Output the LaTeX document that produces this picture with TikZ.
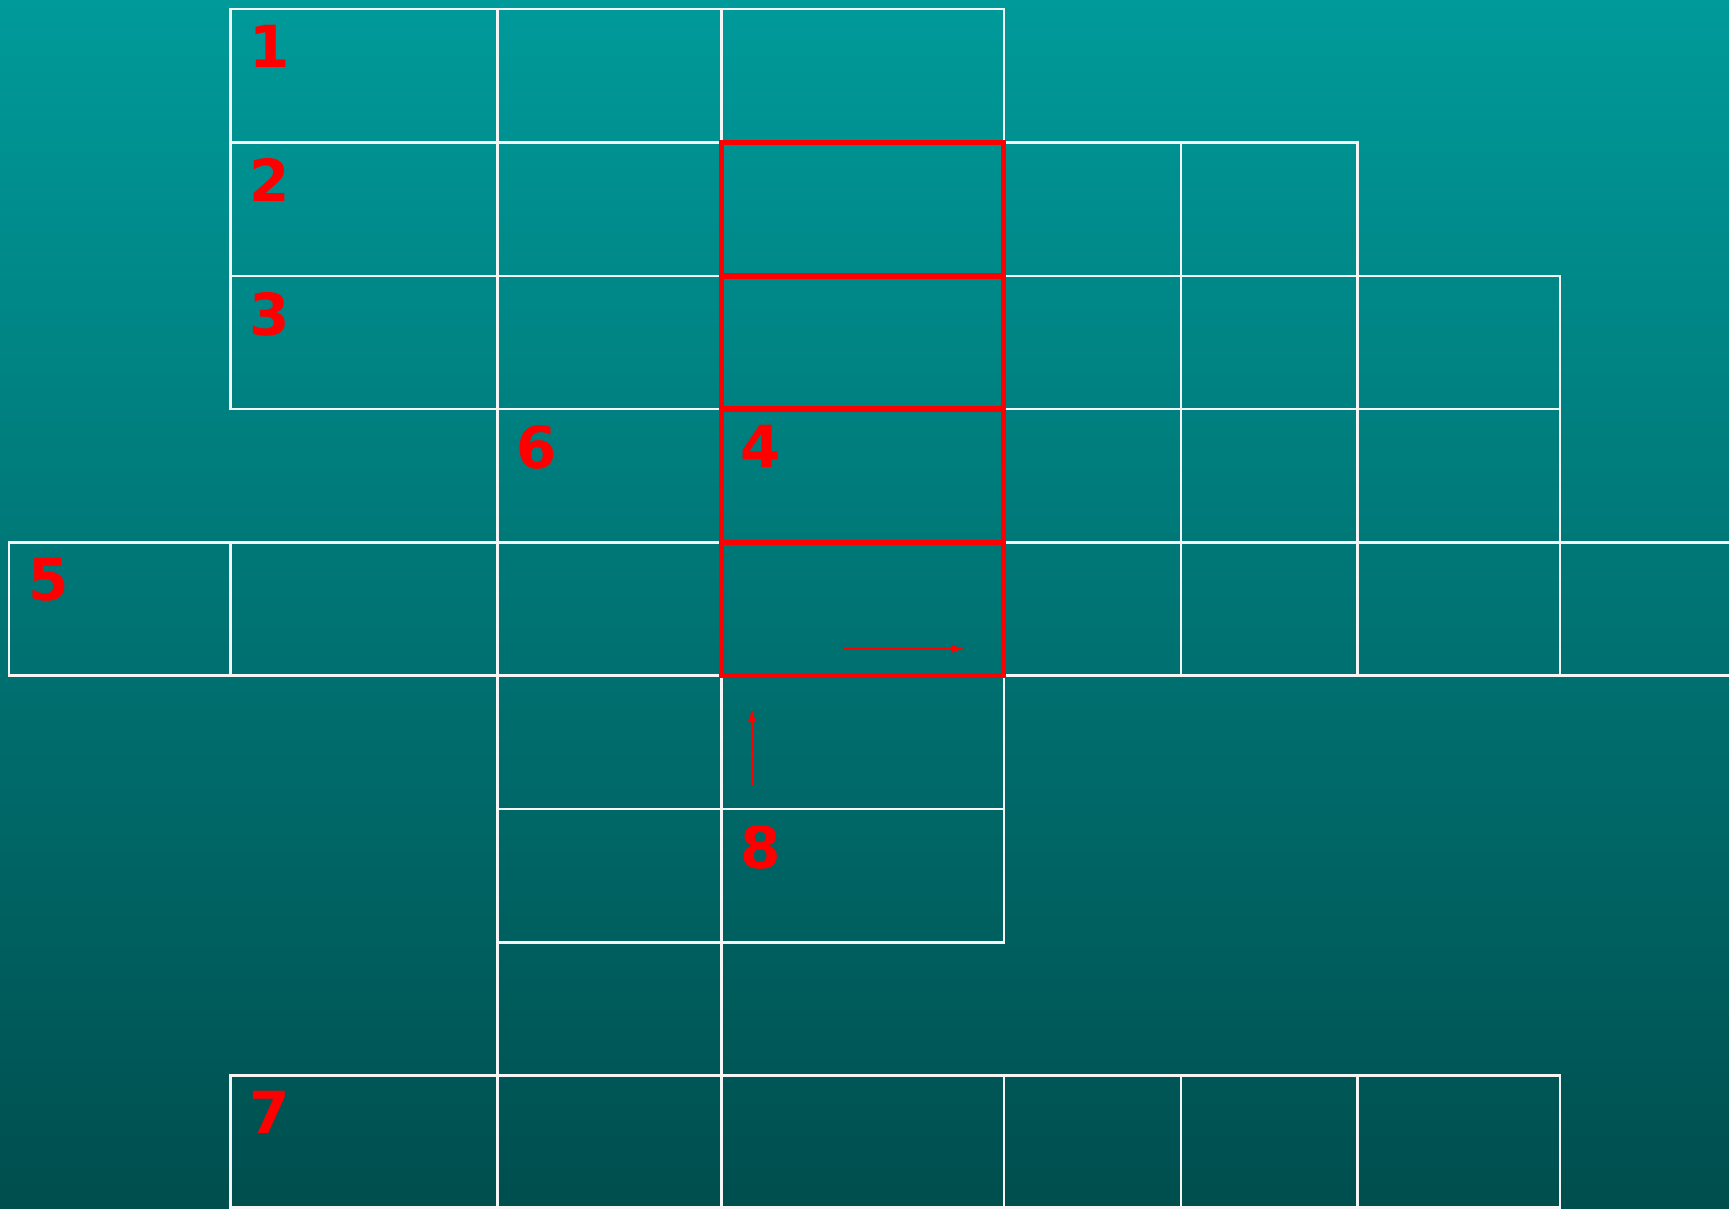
\documentclass[tikz,border=0pt]{standalone}
\usepackage{fontspec}
\setmainfont{DejaVu Sans}
\usetikzlibrary{arrows.meta}
\definecolor{bgtop}{RGB}{0,154,154}
\definecolor{bgbot}{RGB}{0,78,78}
\definecolor{gridwhite}{RGB}{245,245,245}
\definecolor{hired}{RGB}{255,0,0}
\tikzset{
  cellbox/.style={draw=gridwhite, line width=2.4pt},
  redbox/.style={draw=hired, line width=5.2pt},
  numlabel/.style={anchor=north west, inner sep=0pt, text=hired, font=\fontsize{58}{58}\selectfont\bfseries},
  pointer/.style={draw=hired, line width=1.8pt, -{Latex[length=13pt,width=9pt]}}
}
\begin{document}
\begin{tikzpicture}[x=1pt,y=-1pt]
\def\Xa{8.8}\def\Xb{230.6}\def\Xc{497.3}\def\Xd{721.4}\def\Xe{1003.7}\def\Xf{1181}\def\Xg{1357.4}\def\Xh{1560}\def\Xi{1740}
\def\Ya{9}\def\Yb{142.3}\def\Yc{276}\def\Yd{409}\def\Ye{542.3}\def\Yf{675.5}\def\Yg{809}\def\Yh{942.5}\def\Yi{1075.5}\def\Yj{1207.5}
\useasboundingbox (0,0) rectangle (1729,1208);
\shade[top color=bgtop, bottom color=bgbot] (0,0) rectangle (1729,1208);
% row 1
\draw[cellbox] (\Xb,\Ya) rectangle (\Xc,\Yb);
\draw[cellbox] (\Xc,\Ya) rectangle (\Xd,\Yb);
\draw[cellbox] (\Xd,\Ya) rectangle (\Xe,\Yb);
% row 2
\draw[cellbox] (\Xb,\Yb) rectangle (\Xc,\Yc);
\draw[cellbox] (\Xc,\Yb) rectangle (\Xd,\Yc);
\draw[cellbox] (\Xe,\Yb) rectangle (\Xf,\Yc);
\draw[cellbox] (\Xf,\Yb) rectangle (\Xg,\Yc);
% row 3
\draw[cellbox] (\Xb,\Yc) rectangle (\Xc,\Yd);
\draw[cellbox] (\Xc,\Yc) rectangle (\Xd,\Yd);
\draw[cellbox] (\Xe,\Yc) rectangle (\Xf,\Yd);
\draw[cellbox] (\Xf,\Yc) rectangle (\Xg,\Yd);
\draw[cellbox] (\Xg,\Yc) rectangle (\Xh,\Yd);
% row 4
\draw[cellbox] (\Xc,\Yd) rectangle (\Xd,\Ye);
\draw[cellbox] (\Xe,\Yd) rectangle (\Xf,\Ye);
\draw[cellbox] (\Xf,\Yd) rectangle (\Xg,\Ye);
\draw[cellbox] (\Xg,\Yd) rectangle (\Xh,\Ye);
% row 5
\draw[cellbox] (\Xa,\Ye) rectangle (\Xb,\Yf);
\draw[cellbox] (\Xb,\Ye) rectangle (\Xc,\Yf);
\draw[cellbox] (\Xc,\Ye) rectangle (\Xd,\Yf);
\draw[cellbox] (\Xe,\Ye) rectangle (\Xf,\Yf);
\draw[cellbox] (\Xf,\Ye) rectangle (\Xg,\Yf);
\draw[cellbox] (\Xg,\Ye) rectangle (\Xh,\Yf);
\draw[cellbox] (\Xh,\Ye) rectangle (\Xi,\Yf);
% row 6-8
\draw[cellbox] (\Xc,\Yf) rectangle (\Xd,\Yg);
\draw[cellbox] (\Xd,\Yf) rectangle (\Xe,\Yg);
\draw[cellbox] (\Xc,\Yg) rectangle (\Xd,\Yh);
\draw[cellbox] (\Xd,\Yg) rectangle (\Xe,\Yh);
\draw[cellbox] (\Xc,\Yh) rectangle (\Xd,\Yi);
% row 9
\draw[cellbox] (\Xb,\Yi) rectangle (\Xc,\Yj);
\draw[cellbox] (\Xc,\Yi) rectangle (\Xd,\Yj);
\draw[cellbox] (\Xd,\Yi) rectangle (\Xe,\Yj);
\draw[cellbox] (\Xe,\Yi) rectangle (\Xf,\Yj);
\draw[cellbox] (\Xf,\Yi) rectangle (\Xg,\Yj);
\draw[cellbox] (\Xg,\Yi) rectangle (\Xh,\Yj);
% red column
\draw[redbox] (\Xd,\Yb) rectangle (\Xe,\Yc);
\draw[redbox] (\Xd,\Yc) rectangle (\Xe,\Yd);
\draw[redbox] (\Xd,\Yd) rectangle (\Xe,\Ye);
\draw[redbox] (\Xd,\Ye) rectangle (\Xe,\Yf);
% labels
\node[numlabel] (n1) at (\Xb+19,\Ya+16) {1};
\node[numlabel] (n2) at (\Xb+19,\Yb+16) {2};
\node[numlabel] (n3) at (\Xb+19,\Yc+16) {3};
\node[numlabel] (n6) at (\Xc+19,\Yd+16) {6};
\node[numlabel] (n4) at (\Xd+19,\Yd+16) {4};
\node[numlabel] (n5) at (\Xa+19,\Ye+16) {5};
\node[numlabel] (n8) at (\Xd+19,\Yg+16) {8};
\node[numlabel] (n7) at (\Xb+19,\Yi+16) {7};
% arrows
\coordinate (ha) at (843,648.7);
\coordinate (hb) at (964,648.7);
\coordinate (va) at (752,785);
\coordinate (vb) at (752,709);
\draw[pointer] (ha) -- (hb);
\draw[pointer] (va) -- (vb);
\end{tikzpicture}
\end{document}
